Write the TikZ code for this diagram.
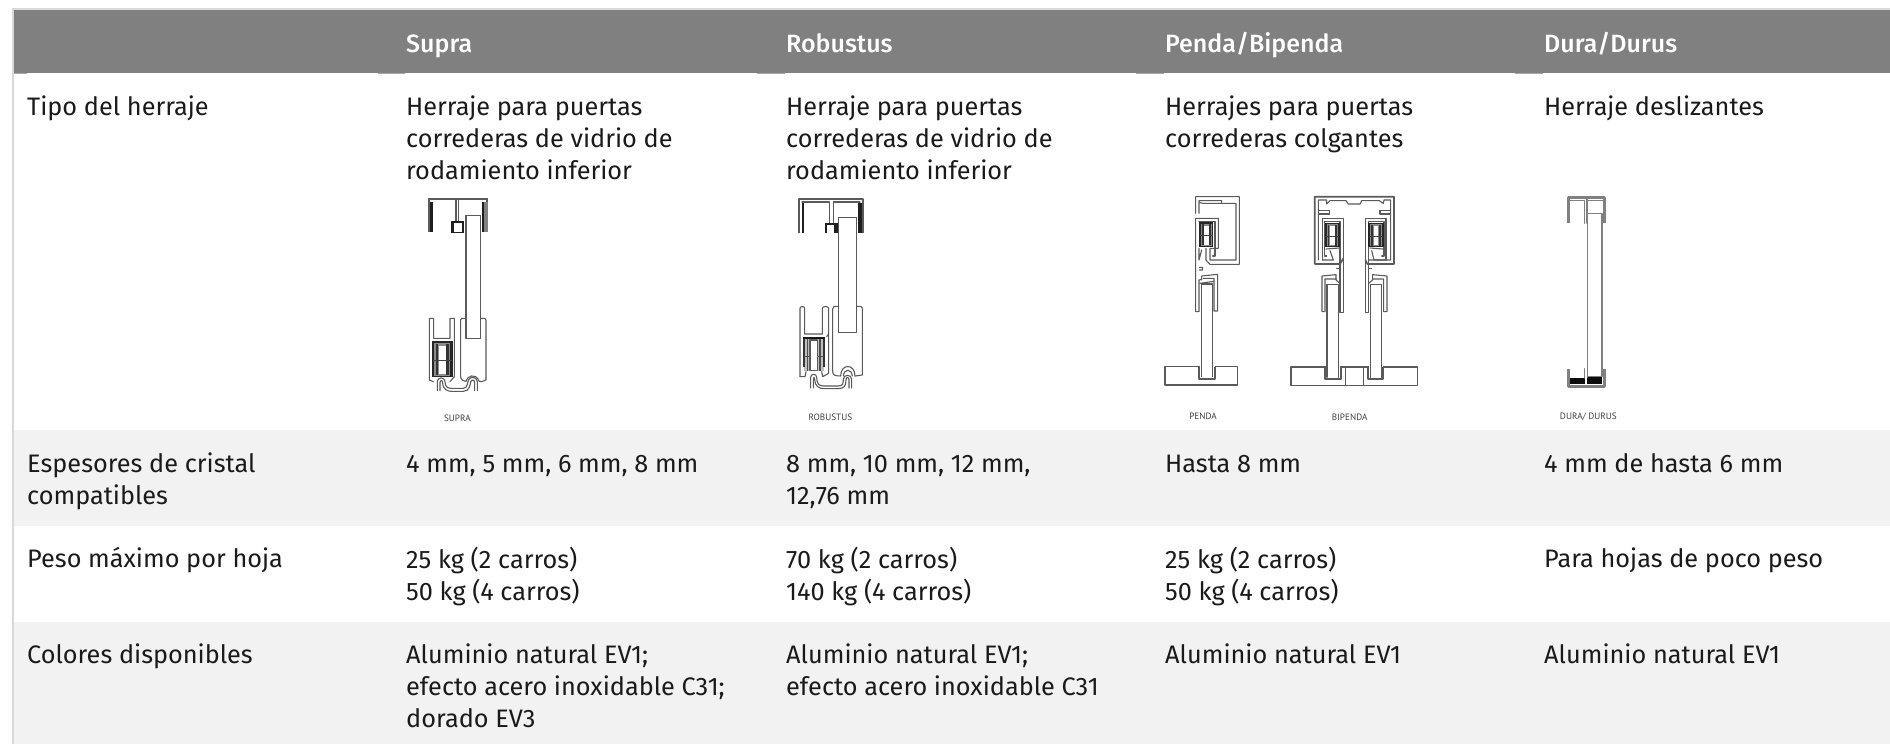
\documentclass[tikz,border=0pt]{standalone}
\usepackage{fontspec}
\setmainfont{Fira Sans}
\newfontfamily\hfont{Fira Sans Medium}
\newfontfamily\lblfont{PT Sans}
\definecolor{hdr}{HTML}{808080}
\definecolor{rowg}{HTML}{F2F2F2}
\definecolor{edge}{HTML}{D9D9D9}
\definecolor{txt}{HTML}{1A1A1A}
\definecolor{ln}{HTML}{5A5A5A}
\tikzset{
  tcell/.style={anchor=north west,inner sep=0pt,align=left,text=txt,font=\fontsize{25.3}{32}\selectfont},
  hcell/.style={anchor=base west,inner sep=0pt,text=white,font=\hfont\fontsize{25}{32}\selectfont},
  tiny/.style={inner sep=0pt,text=black!75,font=\lblfont\fontsize{9.2}{10}\selectfont},
  pr/.style={draw=ln,line width=1.1pt,line join=round,line cap=round},
  prw/.style={pr,fill=white},
  prt/.style={draw=ln,line width=1.7pt,line join=round},
  prg/.style={draw=black!50,line width=2.4pt,line join=round},
  zoomed/.style={x=0.33333pt,y=-0.33333pt}
}
\newcommand{\rowcell}[4]{\node[tcell] (#1) at (#2,#3-20) {\rule{0pt}{20pt}#4};}
\newcommand{\rodillo}[4]{% x,y,w,h in zoom units
  \fill[black!85] (#1,#2) rectangle ++(#3,#4);
  \fill[black!45] ({#1+#3*0.12},{#2+#4*0.05}) rectangle ({#1+#3*0.88},{#2+#4*0.97});
  \fill[black!80] ({#1+#3*0.2},{#2+#4*0.08}) rectangle ({#1+#3*0.3},{#2+#4*0.95});
  \fill[black!80] ({#1+#3*0.7},{#2+#4*0.08}) rectangle ({#1+#3*0.8},{#2+#4*0.95});
  \fill[white] ({#1+#3*0.34},{#2+#4*0.14}) rectangle ({#1+#3*0.66},{#2+#4*0.92});
  \draw[black!75,line width=0.6pt] ({#1+#3*0.04},{#2+#4*0.55}) -- ({#1+#3*0.96},{#2+#4*0.55});
}
\begin{document}
\begin{tikzpicture}[x=1pt,y=-1pt]
\useasboundingbox (0,0) rectangle (1890,744);
\fill[white] (0,0) rectangle (1890,744);
% table frame and bands
\fill[edge] (12,8) rectangle (1890,10);
\fill[edge] (12,8) rectangle (14,744);
\fill[hdr] (14,10) rectangle (1890,73);
\foreach \a/\b in {14/27,378/405,757/785,1136/1164,1515/1543}{\fill[hdr!70] (\a,73) rectangle (\b,74);}
\fill[rowg] (14,430) rectangle (1890,526);
\fill[rowg] (14,622) rectangle (1890,744);
% header
\node[hcell] (hSupra) at (406,52) {Supra};
\node[hcell] (hRobustus) at (786,52) {Robustus};
\node[hcell] (hPenda) at (1165,52) {Penda/Bipenda};
\node[hcell] (hDura) at (1544,52) {Dura/Durus};
% row 1
\rowcell{a0}{27}{115}{Tipo del herraje}
\rowcell{a1}{406}{115}{Herraje para puertas\\correderas de vidrio de\\rodamiento inferior}
\rowcell{a2}{786}{115}{Herraje para puertas\\correderas de vidrio de\\rodamiento inferior}
\rowcell{a3}{1165}{115}{Herrajes para puertas\\correderas colgantes}
\rowcell{a4}{1544}{115}{Herraje deslizantes}
% row 2
\rowcell{b0}{27}{472}{Espesores de cristal\\compatibles}
\rowcell{b1}{406}{472}{4 mm, 5 mm, 6 mm, 8 mm}
\rowcell{b2}{786}{472}{8 mm, 10 mm, 12 mm,\\12,76 mm}
\rowcell{b3}{1165}{472}{Hasta 8 mm}
\rowcell{b4}{1544}{472}{4 mm de hasta 6 mm}
% row 3
\rowcell{c0}{27}{567}{Peso máximo por hoja}
\rowcell{c1}{406}{567}{25 kg (2 carros)\\50 kg (4 carros)}
\rowcell{c2}{786}{567}{70 kg (2 carros)\\140 kg (4 carros)}
\rowcell{c3}{1165}{567}{25 kg (2 carros)\\50 kg (4 carros)}
\rowcell{c4}{1544}{567}{Para hojas de poco peso}
% row 4
\rowcell{d0}{27}{663}{Colores disponibles}
\rowcell{d1}{406}{663}{Aluminio natural EV1;\\efecto acero inoxidable C31;\\dorado EV3}
\rowcell{d2}{786}{663}{Aluminio natural EV1;\\efecto acero inoxidable C31}
\rowcell{d3}{1165}{663}{Aluminio natural EV1}
\rowcell{d4}{1544}{663}{Aluminio natural EV1}
% ---------- SUPRA
\begin{scope}[shift={(400,180)},zoomed]
\draw[prt] (86,155) -- (86,57) -- (261,57) -- (261,155);
\fill[ln] (84,55) rectangle (263,61);
\fill[black!88] (90,65) rectangle (99,157);
\fill[black!88] (246,65) rectangle (251,157);
\fill[black!50] (252,65) rectangle (263,157);
\draw[pr] (168,60) -- (168,125) (176,60) -- (176,125);
\fill[black!88] (152,124) rectangle (192,158);
\fill[white] (161,130) rectangle (186,155);
\draw[prw] (198,107) rectangle (242,475);
\draw[pr] (88,600) -- (88,415) -- (101,415) -- (101,475) -- (150,475) -- (150,415) -- (163,415) -- (163,590) -- (150,605);
\draw[pr] (88,600) -- (100,605);
\rodillo{96}{484}{62}{106}
\draw[pr] (182,590) -- (182,420) .. controls (182,415) and (185,415) .. (190,415) -- (198,415);
\draw[pr] (242,415) -- (252,415) .. controls (257,415) and (258,418) .. (258,422) -- (258,600) -- (245,605);
\draw[pr] (182,590) .. controls (183,600) and (190,604) .. (198,604) .. controls (200,590) and (225,575) .. (238,604) -- (245,605);
\draw[pr] (112,632) -- (112,605) .. controls (112,590) and (135,590) .. (135,605) .. controls (135,622) and (145,625) .. (155,625) -- (190,625) .. controls (203,625) and (203,605) .. (205,600) .. controls (210,588) and (232,590) .. (232,605) -- (232,632);
\draw[pr] (120,632) -- (120,608) .. controls (120,600) and (128,600) .. (128,608) .. controls (128,630) and (145,634) .. (155,634) -- (190,634) .. controls (210,634) and (210,612) .. (212,606) .. controls (214,598) and (224,598) .. (224,608) -- (224,632);
\node[tiny] (lSupra) at (172,716) {SUPRA};
\end{scope}
% ---------- ROBUSTUS
\begin{scope}[shift={(780,180)},zoomed]
\draw[prt] (58,160) -- (58,57) -- (248,57) -- (248,160);
\fill[black!88] (66,70) rectangle (73,160);
\fill[black!88] (234,70) rectangle (245,160);
\draw[pr] (66,66) -- (148,66) -- (148,128) (160,128) -- (160,66) -- (240,66);
\fill[black!88] (134,128) rectangle (175,160);
\fill[white] (141,134) rectangle (163,158);
\draw[prw] (175,112) rectangle (230,458);
\draw[pr] (60,590) -- (60,385) .. controls (60,378) and (74,378) .. (74,385) -- (74,462) -- (127,462) -- (127,385) .. controls (127,378) and (146,378) .. (146,385) -- (146,462) -- (140,470);
\fill[black!90] (70,470) rectangle (134,478);
\fill[black!25] (72,478) rectangle (132,572);
\fill[black!80] (70,478) rectangle (75,560);
\fill[black!80] (129,478) rectangle (134,560);
\fill[black!70] (80,478) rectangle (85,572);
\fill[black!70] (117,478) rectangle (122,572);
\draw[black!70,line width=0.6pt] (72,528) -- (132,528);
\draw[prw] (90,480) rectangle (112,572);
\draw[pr] (60,590) -- (75,590) -- (78,575);
\draw[pr] (146,462) -- (146,580) -- (128,590) -- (125,575);
\draw[pr] (158,575) -- (158,388) .. controls (158,380) and (162,379) .. (168,379) -- (175,379);
\draw[pr] (230,379) -- (240,379) .. controls (246,379) and (247,382) .. (247,388) -- (247,585) -- (225,588);
\draw[pr] (158,575) .. controls (158,585) and (165,588) .. (182,588) .. controls (182,550) and (225,550) .. (225,588);
\draw[pr] (190,588) .. controls (192,565) and (215,565) .. (217,588);
\draw[pr] (92,624) -- (92,592) .. controls (92,580) and (110,580) .. (110,592) .. controls (110,612) and (118,618) .. (130,618) -- (175,618) .. controls (188,618) and (190,610) .. (190,598) .. controls (190,582) and (215,582) .. (215,598) -- (215,624);
\draw[pr] (100,624) -- (100,598) .. controls (100,590) and (104,590) .. (104,598) .. controls (104,618) and (118,626) .. (130,626) -- (175,626) .. controls (194,626) and (198,615) .. (198,600) .. controls (198,590) and (207,590) .. (207,600) -- (207,624);
\node[tiny] (lRobustus) at (151,713) {ROBUSTUS};
\end{scope}
% ---------- PENDA
\begin{scope}[shift={(1150,180)},zoomed]
\draw[pr] (137,100) -- (137,50) -- (268,50) -- (268,253) -- (180,253) -- (168,240) -- (168,205);
\draw[pr] (147,100) -- (147,62) -- (215,62) -- (215,70) -- (205,70) -- (160,70) -- (150,68);
\draw[pr] (215,70) -- (258,70) -- (258,240) -- (180,240) -- (180,205) -- (205,205) -- (205,115) -- (137,115) -- (137,395) -- (147,395) -- (147,300) -- (155,298);
\draw[pr] (147,125) -- (195,125) -- (195,228) -- (188,228);
\rodillo{148}{127}{42}{73}
\draw[pr] (147,205) -- (147,240) -- (155,210);
\draw[pr] (148,262) -- (158,262) -- (158,270) -- (148,270) (155,300) -- (155,288) -- (203,283) -- (203,393) -- (192,393) -- (192,295) -- (160,295);
\draw[pr] (150,310) -- (192,304);
\draw[prw] (155,312) rectangle (188,598);
\draw[pr] (45,560) rectangle (263,615);
\fill[white] (150,558) rectangle (194,598);
\draw[prw] (155,312) -- (155,590) (188,312) -- (188,590);
\draw[prt] (148,560) -- (148,598) -- (195,598) -- (195,560);
\node[tiny] (lPenda) at (159,710) {PENDA};
\end{scope}
% ---------- BIPENDA
\begin{scope}[shift={(1280,180)},zoomed]
\draw[prt] (104,252) -- (104,50) -- (342,50) -- (342,252) -- (262,252) -- (256,240) (104,252) -- (180,252) -- (190,235);
\draw[pr] (115,240) -- (115,60) -- (140,60) -- (140,72) -- (150,62) -- (198,62) -- (205,72) -- (240,72) -- (245,62) -- (298,62) -- (310,70) -- (312,60) -- (332,60) -- (332,240) -- (265,240);
\draw[pr] (115,92) -- (148,92) -- (148,102) -- (115,102);
\draw[pr] (332,92) -- (300,92) -- (300,102) -- (332,102);
\draw[pr] (127,240) -- (127,115) -- (190,115) -- (190,398) -- (180,398) -- (180,125);
\draw[pr] (127,240) -- (160,240) -- (150,212);
\draw[pr] (318,240) -- (318,115) -- (256,115) -- (256,398) -- (266,398) -- (266,125);
\draw[pr] (318,240) -- (282,240) -- (275,212);
\draw[pr] (180,125) -- (134,125) -- (134,228) -- (140,228) (266,125) -- (312,125) -- (312,228) -- (305,228);
\rodillo{135}{128}{44}{73}
\rodillo{265}{128}{46}{73}
\draw[pr] (138,207) -- (178,204) (270,204) -- (308,207);
\draw[pr] (170,265) -- (180,265) (266,265) -- (275,265);
\draw[pr] (180,310) -- (168,300) -- (168,284) -- (126,288) -- (126,395) -- (135,395) -- (135,297) -- (170,297);
\draw[pr] (266,310) -- (278,300) -- (278,284) -- (321,288) -- (321,395) -- (311,395) -- (311,297) -- (278,297);
\draw[prw] (141,314) rectangle (176,590);
\draw[prw] (271,314) rectangle (304,590);
\draw[pr] (33,561) rectangle (413,617);
\draw[pr] (197,561) -- (197,617) (251,561) -- (251,617);
\fill[white] (138,556) rectangle (180,592);
\fill[white] (268,556) rectangle (308,592);
\draw[pr] (141,500) -- (141,592) (176,500) -- (176,592) (271,500) -- (271,592) (304,500) -- (304,592);
\draw[prt] (136,561) -- (136,598) -- (182,598) -- (182,561);
\draw[prt] (265,561) -- (265,598) -- (310,598) -- (310,561);
\node[tiny] (lBipenda) at (209,711) {BIPENDA};
\end{scope}
% ---------- DURA
\begin{scope}[shift={(1540,180)},zoomed]
\draw[prg] (85,130) -- (85,53) -- (193,53) -- (193,130);
\draw[pr,draw=black!50] (134,130) -- (134,62) -- (85,62) (141,130) -- (141,53) (188,62) -- (141,62);
\draw[prw,draw=black!50,line width=1.2pt] (142,100) rectangle (186,590);
\fill[black!95] (90,594) rectangle (134,613);
\fill[black!95] (142,592) rectangle (186,613);
\draw[prg] (85,566) -- (85,620) -- (193,620) -- (193,566);
\draw[pr,draw=black!50] (134,566) -- (134,594) (142,566) -- (142,592);
\node[tiny] (lDura) at (145,711) {DURA/ DURUS};
\end{scope}
\end{tikzpicture}
\end{document}
